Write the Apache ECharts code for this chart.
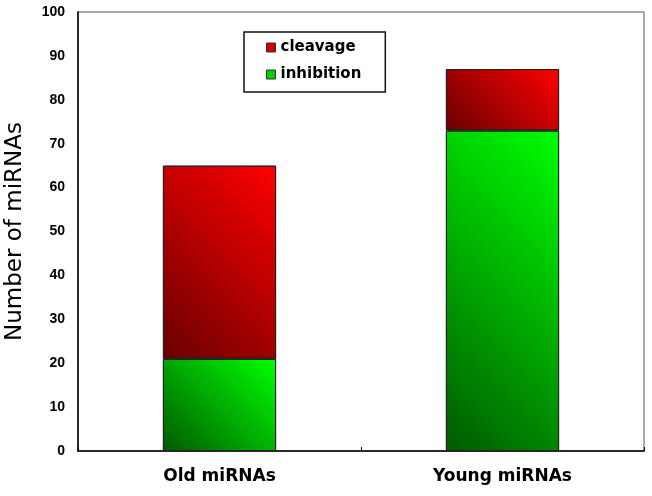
<!DOCTYPE html>
<html>
<head>
<meta charset="utf-8">
<script src="https://cdn.jsdelivr.net/npm/echarts@6/dist/echarts.min.js"></script>
<style>
html,body{margin:0;padding:0;background:#fff;}
#c{width:652px;height:496px;}
</style>
</head>
<body>
<div id="c"></div>
<script>
const categories = ['Old miRNAs', 'Young miRNAs'];
const inhibition = [21, 73];
const cleavage = [44, 14];
const seriesNames = ['cleavage', 'inhibition'];
const yMin = 0, yMax = 100, yStep = 10;
const barFrac = 0.4;

const GREEN = ['#005a00', '#00ff00'];
const RED = ['#680000', '#ff0000'];

function grad(dark, bright, w, h) {
  // 45-degree diagonal gradient from bottom-left (dark) to top-right (bright)
  let x2 = 1, y2 = 0;
  if (w > 0 && h > 0) {
    const s = (w + h) / 2;
    x2 = s / w; y2 = 1 - s / h;
  }
  return new echarts.graphic.LinearGradient(0, 1, x2, y2, [
    { offset: 0, color: dark },
    { offset: 1, color: bright }
  ]);
}

const chart = echarts.init(document.getElementById('c'), null, { renderer: 'canvas' });

function buildSeries(bw, pxPerUnit) {
  return [
    {
      name: seriesNames[1], type: 'bar', stack: 'total', barWidth: (barFrac * 100) + '%',
      data: inhibition.map(v => ({ value: v, itemStyle: { color: grad(GREEN[0], GREEN[1], bw, v * pxPerUnit) } })),
      itemStyle: { color: GREEN[1], borderColor: '#222', borderWidth: 1 }
    },
    {
      name: seriesNames[0], type: 'bar', stack: 'total', barWidth: (barFrac * 100) + '%',
      data: cleavage.map(v => ({ value: v, itemStyle: { color: grad(RED[0], RED[1], bw, v * pxPerUnit) } })),
      itemStyle: { color: RED[1], borderColor: '#222', borderWidth: 1 }
    }
  ];
}

chart.setOption({
  animation: false,
  backgroundColor: '#fff',
  grid: {
    left: 78, right: 8, top: 12, bottom: 45,
    outerBoundsMode: 'none',
    containLabel: false,
    show: true, borderColor: '#8c8c8c', borderWidth: 1.5, backgroundColor: 'transparent'
  },
  legend: {
    left: 244, top: 32,
    orient: 'vertical',
    icon: 'rect',
    itemWidth: 9, itemHeight: 9,
    itemGap: 12,
    padding: [8, 24, 10, 22],
    borderColor: '#111', borderWidth: 1.5,
    textStyle: { fontFamily: 'DejaVu Sans', fontWeight: 'bold', fontSize: 15, color: '#000' },
    data: [
      { name: seriesNames[0], itemStyle: { color: '#d00000', borderColor: '#333', borderWidth: 1 } },
      { name: seriesNames[1], itemStyle: { color: '#00d000', borderColor: '#333', borderWidth: 1 } }
    ]
  },
  xAxis: {
    type: 'category',
    data: categories,
    axisLine: { lineStyle: { color: '#000', width: 1.5 } },
    axisTick: { show: true, inside: true, length: 4, lineStyle: { color: '#000' } },
    axisLabel: { margin: 17, fontFamily: 'DejaVu Sans', fontWeight: 'bold', fontSize: 17, color: '#000' }
  },
  yAxis: {
    type: 'value',
    min: yMin, max: yMax, interval: yStep,
    name: 'Number of miRNAs',
    nameLocation: 'middle',
    nameGap: 51,
    nameTextStyle: { fontFamily: 'DejaVu Sans', fontSize: 23, color: '#000' },
    axisLine: { show: true, lineStyle: { color: '#000', width: 1.5 } },
    axisTick: { show: false },
    splitLine: { show: false },
    axisLabel: { margin: 13, fontFamily: 'Liberation Sans', fontWeight: 'bold', fontSize: 14, color: '#000' }
  },
  series: buildSeries(0, 0)
});

// compute pixel sizes through the library's own scales, then set 45-degree gradients
const p0 = chart.convertToPixel({ xAxisIndex: 0, yAxisIndex: 0 }, [0, yMin]);
const p1 = chart.convertToPixel({ xAxisIndex: 0, yAxisIndex: 0 }, [1, yMax]);
const bandW = Math.abs(p1[0] - p0[0]);
const bw = bandW * barFrac;
const pxPerUnit = Math.abs(p0[1] - p1[1]) / (yMax - yMin);
chart.setOption({ series: buildSeries(bw, pxPerUnit) });
</script>
</body>
</html>
